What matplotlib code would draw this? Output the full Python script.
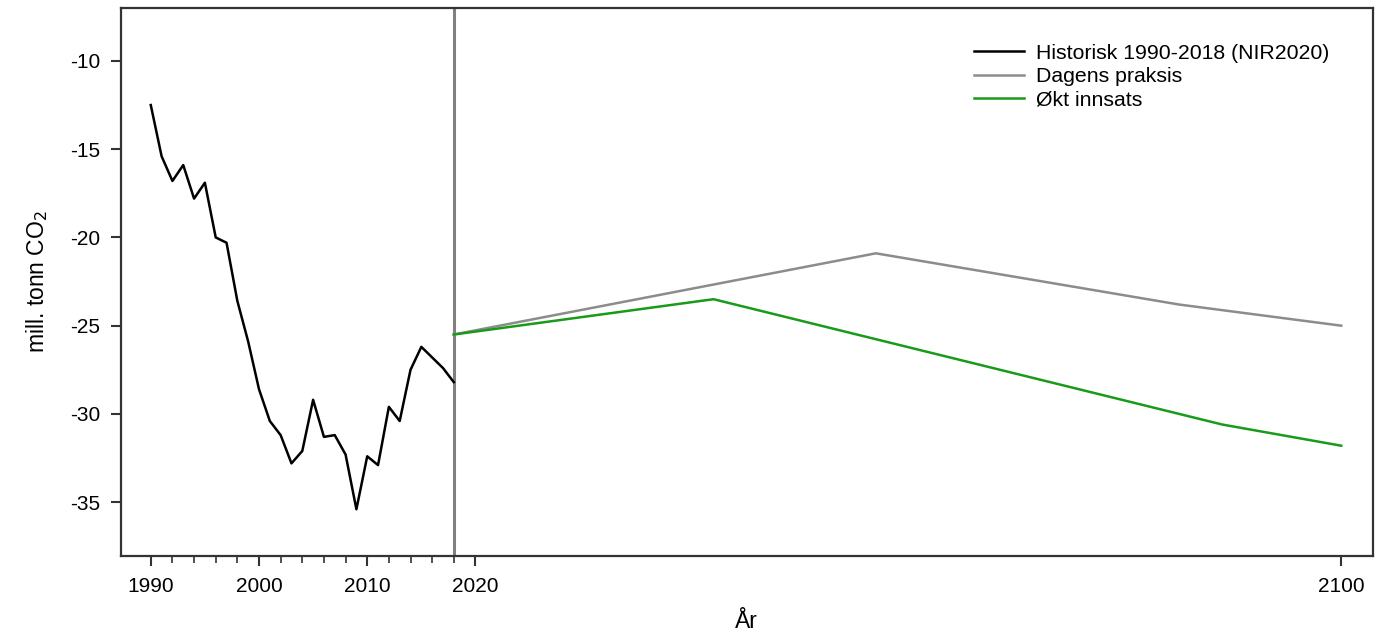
import numpy as np
import matplotlib.pyplot as plt
from matplotlib.ticker import FixedLocator

plt.rcParams['font.family'] = ['Liberation Sans', 'DejaVu Sans']
plt.rcParams['axes.unicode_minus'] = False

# historical series 1990-2018 (NIR2020)
hist_years = list(range(1990, 2019))
hist_values = [-12.5, -15.4, -16.8, -15.9, -17.8, -16.9, -20.0, -20.3, -23.6, -25.9,
               -28.6, -30.4, -31.2, -32.8, -32.1, -29.2, -31.3, -31.2, -32.3, -35.4,
               -32.4, -32.9, -29.6, -30.4, -27.5, -26.2, -26.8, -27.4, -28.2]

# projections
dagens_years = [2018, 2057, 2085, 2100]
dagens_values = [-25.5, -20.9, -23.8, -25.0]

okt_years = [2018, 2042, 2089, 2100]
okt_values = [-25.5, -23.5, -30.6, -31.8]

labels = ['Historisk 1990-2018 (NIR2020)', 'Dagens praksis', 'Økt innsats']
yticks = [-10, -15, -20, -25, -30, -35]
xticks = [1990, 2000, 2010, 2020, 2100]
minor_xticks = list(range(1992, 2019, 2))

fig = plt.figure(figsize=(13.83, 6.38), dpi=100)
ax = fig.add_axes([0.0875, 0.1285, 0.905, 0.859])

ax.plot(hist_years, hist_values, color='black', lw=1.8, label=labels[0])
ax.plot(dagens_years, dagens_values, color='#8c8c8c', lw=1.8, label=labels[1])
ax.plot(okt_years, okt_values, color='#1a9a1a', lw=1.8, label=labels[2])
ax.axvline(2018, color='#808080', lw=2.2, zorder=0)

ax.set_xlim(1987.25, 2102.9)
ax.set_ylim(-38.05, -7)
ax.set_xticks(xticks)
ax.xaxis.set_minor_locator(FixedLocator(minor_xticks))
ax.set_yticks(yticks)

for s in ax.spines.values():
    s.set_linewidth(1.6)
    s.set_color('#333333')
ax.tick_params(axis='both', which='major', direction='out', length=7, width=1.5,
               labelsize=15, color='#333333', pad=8)
ax.tick_params(axis='x', which='minor', direction='out', length=5, width=1.2, color='#333333')

ax.set_xlabel('År', fontsize=16.5, labelpad=10)
ax.set_ylabel('mill. tonn CO$_2$', fontsize=16.5, labelpad=14)

ax.legend(loc='upper left', bbox_to_anchor=(0.675, 0.95), frameon=False, fontsize=15.3,
          handlelength=2.35, handletextpad=0.55, labelspacing=0.2, borderaxespad=0)

fig.savefig('out.png', dpi=100)
